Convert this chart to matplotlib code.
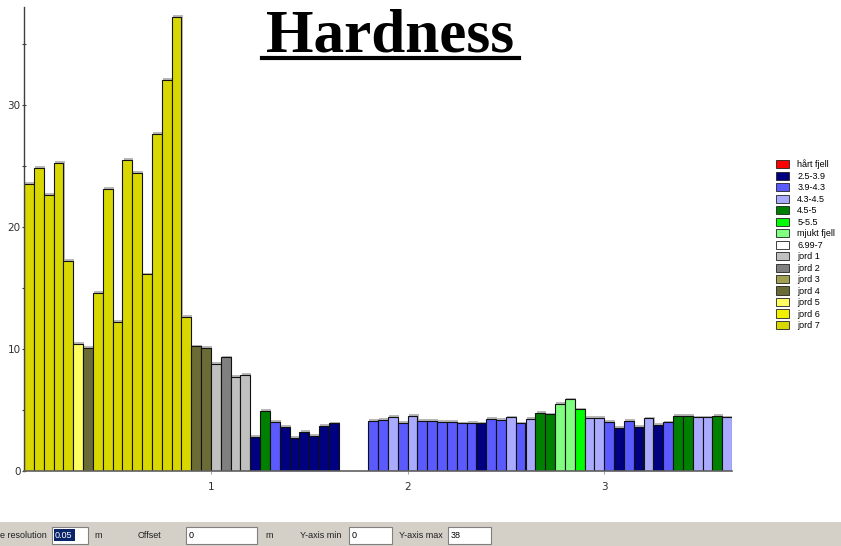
import matplotlib
matplotlib.use("Agg")
import matplotlib.pyplot as plt
from matplotlib.patches import Patch, Rectangle
from matplotlib.lines import Line2D

# legend classes and colours
classes = ["hårt fjell", "2.5-3.9", "3.9-4.3", "4.3-4.5", "4.5-5", "5-5.5",
           "mjukt fjell", "6.99-7", "jord 1", "jord 2", "jord 3", "jord 4",
           "jord 5", "jord 6", "jord 7"]
colors = ["#ff0000", "#000080", "#5a5aff", "#aaaaff", "#008000", "#00ff00",
          "#80ff80", "#ffffff", "#c0c0c0", "#808080", "#a0a050", "#6b6b35",
          "#ffff60", "#f0f000", "#d8d800"]

# depth bins (0.05 m) starting at 0.05
bin_start = 0.05
bin_width = 0.05
heights = [23.5, 24.8, 22.6, 25.2, 17.2, 10.4, 10.1, 14.6, 23.1, 12.2,
           25.5, 24.4, 16.1, 27.6, 32.0, 37.2, 12.6, 10.2, 10.1, 8.8,
           9.3, 7.7, 7.9, 2.8, 4.9, 4.0, 3.6, 2.7, 3.2, 2.9,
           3.7, 3.9, 0, 0, 0, 4.1, 4.2, 4.4, 3.95, 4.5,
           4.1, 4.1, 4.0, 4.0, 3.9, 3.95, 3.9, 4.25, 4.2, 4.39,
           3.9, 4.25, 4.77, 4.63, 5.5, 5.86, 5.04, 4.33, 4.33, 4.03,
           3.54, 4.11, 3.62, 4.3, 3.76, 3.98, 4.52, 4.52, 4.39, 4.39,
           4.52, 4.39]
bar_class = ["jord 7"] * 5 + ["jord 5", "jord 4"] + ["jord 7"] * 10 + \
    ["jord 4", "jord 4", "jord 1", "jord 2", "jord 1", "jord 1",
     "2.5-3.9", "4.5-5", "3.9-4.3"] + ["2.5-3.9"] * 6 + [None] * 3 + \
    ["3.9-4.3", "3.9-4.3", "4.3-4.5", "3.9-4.3", "4.3-4.5"] + ["3.9-4.3"] * 6 + \
    ["2.5-3.9", "3.9-4.3", "3.9-4.3", "4.3-4.5", "3.9-4.3", "4.3-4.5",
     "4.5-5", "4.5-5", "mjukt fjell", "mjukt fjell", "5-5.5", "4.3-4.5",
     "4.3-4.5", "3.9-4.3", "2.5-3.9", "3.9-4.3", "2.5-3.9", "4.3-4.5",
     "2.5-3.9", "3.9-4.3", "4.5-5", "4.5-5", "4.3-4.5", "4.3-4.5",
     "4.5-5", "4.3-4.5"]
xticks = [1, 2, 3]
y_min, y_max = 0, 38

cmap = dict(zip(classes, colors))
W, H = 841, 546
fig = plt.figure(figsize=(W / 100, H / 100), dpi=100)
fig.patch.set_facecolor("white")

ax = fig.add_axes([24 / W, 1 - 471 / H, (732 - 24) / W, (471 - 7) / H])
ax.set_facecolor("white")

lefts = [bin_start + i * bin_width for i in range(len(heights))]
xs, hs, cs = [], [], []
for x, h, c in zip(lefts, heights, bar_class):
    if c is None or h == 0:
        continue
    xs.append(x); hs.append(h); cs.append(cmap[c])

# soft shadow behind bars
px_x = bin_width / 9.8
ax.bar([x + 1.2 * px_x for x in xs], [h + 0.15 for h in hs], width=bin_width,
       align="edge", color="#b8b8b8", linewidth=0, zorder=1)
ax.bar(xs, hs, width=bin_width, align="edge", color=cs,
       edgecolor="#111111", linewidth=0.8, zorder=2)

ax.set_xlim(bin_start, bin_start + len(heights) * bin_width)
ax.set_ylim(y_min, y_max)
for s in ("top", "right"):
    ax.spines[s].set_visible(False)
ax.spines["left"].set_color("#404040")
ax.spines["bottom"].set_color("#606060")
ax.spines["left"].set_linewidth(1.0)
ax.spines["bottom"].set_linewidth(1.2)
ax.set_yticks(range(0, 36, 5))
ax.set_yticklabels([str(v) if v % 10 == 0 else "" for v in range(0, 36, 5)])
ax.set_xticks(xticks)
ax.set_xticklabels([str(v) for v in xticks])
ax.tick_params(axis="y", direction="inout", length=3, width=0.8, color="#404040",
               labelsize=7.5, labelcolor="#303030", pad=1)
ax.tick_params(axis="x", direction="out", length=2, width=0.6, color="#909090",
               labelsize=7.5, labelcolor="#303030", pad=6)

# title with underline
fig.text(390 / W, 1 - 51 / H, "Hardness", ha="center", va="baseline",
         fontsize=44, fontweight="bold", family="Liberation Serif")
fig.add_artist(Line2D([262 / W, 519 / W], [1 - 57.5 / H, 1 - 57.5 / H],
                      color="black", linewidth=3.0))

# legend
handles = [Patch(facecolor=c, edgecolor="#202020", linewidth=0.6, label=l)
           for l, c in zip(classes, colors)]
fig.legend(handles=handles, loc="upper left",
           bbox_to_anchor=(772 / W, 1 - 156 / H), frameon=False,
           prop={"family": "Liberation Sans", "size": 6.5},
           handlelength=1.5, handleheight=1.0,
           handletextpad=0.9, labelspacing=0.26, borderaxespad=0)

# bottom control strip
fig.add_artist(Rectangle((0, 0), 1, (H - 522) / H, transform=fig.transFigure,
                         facecolor="#d4d0c8", edgecolor="none"))
yc = 1 - 535 / H
lab = dict(fontsize=6.5, color="#202020", va="center", family="Liberation Sans")
fig.text(0, yc, "e resolution", **lab)
fig.text(94 / W, yc, "m", **lab)
fig.text(138 / W, yc, "Offset", **lab)
fig.text(265 / W, yc, "m", **lab)
fig.text(300 / W, yc, "Y-axis min", **lab)
fig.text(399 / W, yc, "Y-axis max", **lab)
boxes = [(52, 88, "0.05"), (186, 257, "0"), (349, 392, "0"), (448, 491, "38")]
for x0, x1, txt in boxes:
    fig.add_artist(Rectangle((x0 / W, (H - 544) / H), (x1 - x0) / W, 17 / H,
                             transform=fig.transFigure, facecolor="white",
                             edgecolor="#808080", linewidth=0.8))
    tprops = dict(fontsize=6.5, va="center", family="Liberation Sans")
    if txt == "0.05":
        fig.add_artist(Rectangle(((x0 + 2) / W, (H - 541) / H), 21 / W, 12 / H,
                                 transform=fig.transFigure, facecolor="#0a246a",
                                 edgecolor="none"))
        fig.text((x0 + 3) / W, yc, txt, color="white", **tprops)
    else:
        fig.text((x0 + 3) / W, yc, txt, color="black", **tprops)

fig.savefig("out.png", dpi=100)
